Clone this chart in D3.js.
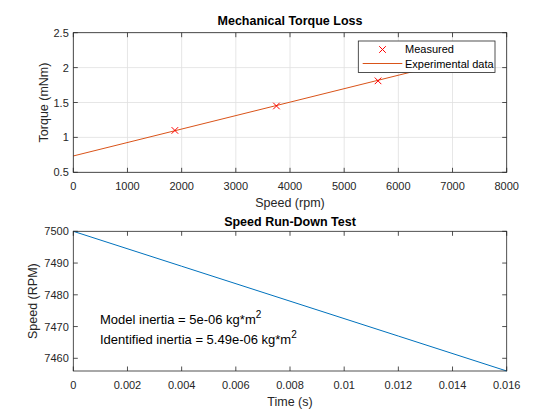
<!DOCTYPE html>
<html><head><meta charset="utf-8">
<script src="https://cdn.jsdelivr.net/npm/d3@7"></script>
<style>body{margin:0;background:#fff}svg{font-family:"Liberation Sans",Arial,sans-serif}</style>
</head><body>
<script>
const measuredSpeed = [1875, 3750, 5625];
const measuredTorque = [1.10, 1.45, 1.81];
const fitSpeed = [0, 7500];
const fitTorque = [0.734, 2.18];
const runTime = [0, 0.004, 0.008, 0.012, 0.016];
const runSpeed = [7500, 7489, 7478, 7467, 7456];
const topXTicks = [0,1000,2000,3000,4000,5000,6000,7000,8000];
const topYTicks = [0.5,1,1.5,2,2.5];
const botXTicks = [0,0.002,0.004,0.006,0.008,0.01,0.012,0.014,0.016];
const botYTicks = [7460,7470,7480,7490,7500];

const W=560,H=420;
const svg=d3.select("body").append("svg").attr("width",W).attr("height",H);
svg.append("rect").attr("width",W).attr("height",H).attr("fill","#fff");

function panel(o){
  const g=svg.append("g");
  const x=d3.scaleLinear().domain(o.xd).range([o.l,o.r]);
  const y=d3.scaleLinear().domain(o.yd).range([o.b,o.t]);
  g.append("rect").attr("x",o.l).attr("y",o.t).attr("width",o.r-o.l).attr("height",o.b-o.t).attr("fill","#fff");
  if(o.grid){
    g.selectAll(".gx").data(o.xt).enter().append("line").attr("x1",d=>x(d)).attr("x2",d=>x(d)).attr("y1",o.t).attr("y2",o.b).attr("stroke","#dfdfdf").attr("stroke-width",0.8);
    g.selectAll(".gy").data(o.yt).enter().append("line").attr("y1",d=>y(d)).attr("y2",d=>y(d)).attr("x1",o.l).attr("x2",o.r).attr("stroke","#dfdfdf").attr("stroke-width",0.8);
  }
  const tl=4.5;
  const ax=g.append("g").attr("stroke","#262626").attr("stroke-width",0.8);
  o.xt.forEach(d=>{ax.append("line").attr("x1",x(d)).attr("x2",x(d)).attr("y1",o.b).attr("y2",o.b-tl);
    ax.append("line").attr("x1",x(d)).attr("x2",x(d)).attr("y1",o.t).attr("y2",o.t+tl);});
  o.yt.forEach(d=>{ax.append("line").attr("y1",y(d)).attr("y2",y(d)).attr("x1",o.l).attr("x2",o.l+tl);
    ax.append("line").attr("y1",y(d)).attr("y2",y(d)).attr("x1",o.r).attr("x2",o.r-tl);});
  g.selectAll(".xl").data(o.xt).enter().append("text").attr("x",d=>x(d)).attr("y",o.b+17.5).attr("text-anchor","middle")
    .attr("font-size",11).attr("fill","#262626").text(o.xf);
  g.selectAll(".yl").data(o.yt).enter().append("text").attr("x",o.l-4.5).attr("y",d=>y(d)+4).attr("text-anchor","end")
    .attr("font-size",11).attr("fill","#262626").text(o.yf);
  g.append("text").attr("x",(o.l+o.r)/2).attr("y",o.b+35).attr("text-anchor","middle").attr("font-size",12.5).attr("fill","#262626").text(o.xlab);
  g.append("text").attr("transform",`translate(${o.ylx},${(o.t+o.b)/2}) rotate(-90)`).attr("text-anchor","middle").attr("font-size",12.5).attr("fill","#262626").text(o.ylab);
  g.append("text").attr("x",(o.l+o.r)/2).attr("y",o.ty).attr("text-anchor","middle").attr("font-size",12.5).attr("font-weight","bold").attr("fill","#000").text(o.title);
  return {g,x,y,o};
}
function frame(p){
  const o=p.o;
  p.g.append("rect").attr("x",o.l).attr("y",o.t).attr("width",o.r-o.l).attr("height",o.b-o.t).attr("fill","none").attr("stroke","#262626").attr("stroke-width",0.8);
}

// Top panel
const p1=panel({l:73.3,r:506.7,t:32.7,b:172.3,xd:[0,8000],yd:[0.5,2.5],xt:topXTicks,yt:topYTicks,grid:true,
  xf:d=>d,yf:d=>d,xlab:"Speed (rpm)",ylab:"Torque (mNm)",ylx:48,title:"Mechanical Torque Loss",ty:25});
const line1=d3.line().x(d=>p1.x(d[0])).y(d=>p1.y(d[1]));
p1.g.append("path").attr("d",line1(fitSpeed.map((s,i)=>[s,fitTorque[i]]))).attr("fill","none").attr("stroke","#D95319").attr("stroke-width",1);
const ms=3.3;
measuredSpeed.forEach((s,i)=>{
  const cx=p1.x(s),cy=p1.y(measuredTorque[i]);
  p1.g.append("path").attr("d",`M${cx-ms},${cy-ms}L${cx+ms},${cy+ms}M${cx-ms},${cy+ms}L${cx+ms},${cy-ms}`).attr("stroke","#FF0000").attr("stroke-width",1);
});
// legend
const lg=p1.g.append("g");
lg.append("rect").attr("x",358.3).attr("y",41).attr("width",136.7).attr("height",31.5).attr("fill","#fff").attr("stroke","#262626").attr("stroke-width",0.8);
{const cx=382.5,cy=49.5;lg.append("path").attr("d",`M${cx-ms},${cy-ms}L${cx+ms},${cy+ms}M${cx-ms},${cy+ms}L${cx+ms},${cy-ms}`).attr("stroke","#FF0000").attr("stroke-width",1);}
lg.append("line").attr("x1",362.7).attr("x2",402.3).attr("y1",63.5).attr("y2",63.5).attr("stroke","#D95319").attr("stroke-width",1);
lg.append("text").attr("x",405).attr("y",53).attr("font-size",11).attr("fill","#000").text("Measured");
lg.append("text").attr("x",405).attr("y",68).attr("font-size",11).attr("fill","#000").text("Experimental data");
frame(p1);

// Bottom panel
const fmt=d=>d===0?"0":String(+d.toFixed(3));
const p2=panel({l:73.3,r:506.7,t:231.3,b:371,xd:[0,0.016],yd:[7456,7500],xt:botXTicks,yt:botYTicks,grid:false,
  xf:fmt,yf:d=>d,xlab:"Time (s)",ylab:"Speed (RPM)",ylx:37,title:"Speed Run-Down Test",ty:226});
const line2=d3.line().x(d=>p2.x(d[0])).y(d=>p2.y(d[1]));
p2.g.append("path").attr("d",line2(runTime.map((t,i)=>[t,runSpeed[i]]))).attr("fill","none").attr("stroke","#0072BD").attr("stroke-width",1);
const t1=p2.g.append("text").attr("x",100).attr("y",324).attr("font-size",13).attr("fill","#000");
t1.append("tspan").text("Model inertia = 5e-06 kg*m");
t1.append("tspan").attr("dy",-6).attr("font-size",10).text("2");
const t2=p2.g.append("text").attr("x",100).attr("y",344).attr("font-size",13).attr("fill","#000");
t2.append("tspan").text("Identified inertia = 5.49e-06 kg*m");
t2.append("tspan").attr("dy",-6).attr("font-size",10).text("2");
frame(p2);
</script>
</body></html>
